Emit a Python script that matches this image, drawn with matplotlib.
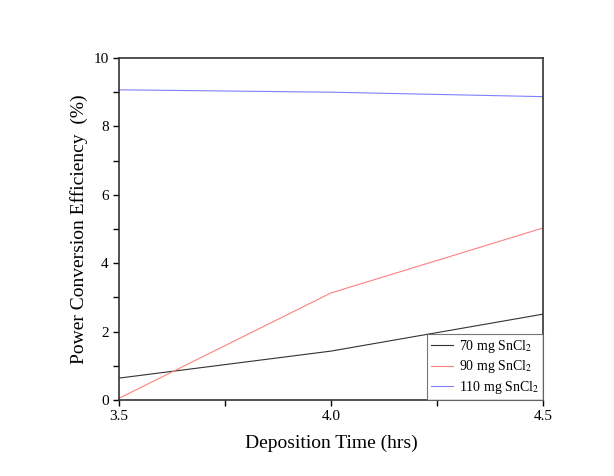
import matplotlib
matplotlib.use("Agg")
import matplotlib.pyplot as plt
from matplotlib.ticker import MultipleLocator

time_hrs = [3.5, 4.0, 4.5]
pce_70 = [0.64, 1.43, 2.51]
pce_90 = [0.05, 3.13, 5.03]
pce_110 = [9.07, 9.00, 8.87]

plt.rcParams['font.family'] = ['Liberation Serif', 'DejaVu Serif']
plt.rcParams['mathtext.fontset'] = 'stix'

fig = plt.figure(figsize=(6.14, 4.76), dpi=100)
ax = fig.add_axes([119/614, 1 - 400/476, 424/614, 342/476])

ax.plot(time_hrs, pce_70, color="#333333", lw=0.8, label="70 mg SnCl$_2$")
ax.plot(time_hrs, pce_90, color="#ff8080", lw=0.8, label="90 mg SnCl$_2$")
ax.plot(time_hrs, pce_110, color="#8080ff", lw=0.8, label="110 mg SnCl$_2$")

ax.set_xlim(3.5, 4.5)
ax.set_ylim(0, 10)
ax.xaxis.set_major_locator(MultipleLocator(0.5))
ax.xaxis.set_minor_locator(MultipleLocator(0.25))
ax.yaxis.set_major_locator(MultipleLocator(2))
ax.yaxis.set_minor_locator(MultipleLocator(1))
ax.set_xticks([3.5, 4.0, 4.5])
ax.set_xticklabels(["3.5", "4.0", "4.5"])
ax.tick_params(which="both", direction="out", length=4, width=1, labelsize=11)
for s in ax.spines.values():
    s.set_linewidth(1.2)
    s.set_color("#333333")

ax.set_xlabel("Deposition Time (hrs)", fontsize=14, labelpad=8)
ax.set_ylabel("Power Conversion Efficiency  (%)", fontsize=14, labelpad=4)

leg = ax.legend(loc="lower right", fontsize=10, frameon=True, fancybox=False,
                borderaxespad=0, handlelength=1.6, handletextpad=0.4,
                borderpad=0.3, labelspacing=0.25)
leg.get_frame().set_edgecolor("#555555")
leg.get_frame().set_linewidth(0.8)

fig.savefig("out.png", dpi=100)
